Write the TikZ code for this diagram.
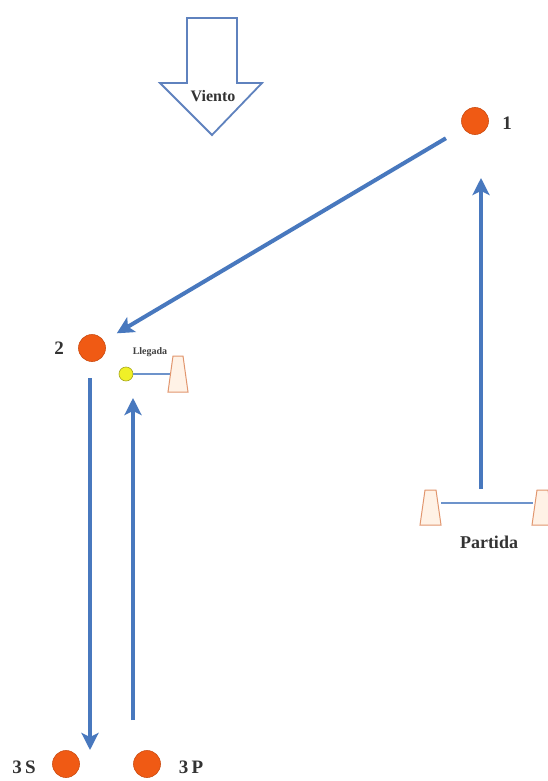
\documentclass[tikz,border=0pt]{standalone}
\usepackage{fontspec}
\setmainfont{Liberation Serif}
\usetikzlibrary{arrows.meta}
\definecolor{arrblue}{RGB}{72,120,190}
\definecolor{dotorange}{RGB}{240,90,20}
\definecolor{conefill}{RGB}{255,242,230}
\definecolor{coneline}{RGB}{225,150,110}
\definecolor{windblue}{RGB}{95,130,190}
\definecolor{ballyellow}{RGB}{240,240,40}
\begin{document}
\begin{tikzpicture}[x=1pt,y=-1pt,
  arr/.style={draw=arrblue,line width=4pt,-{Stealth[length=17pt,width=17pt,inset=4pt]}},
  dot/.style={circle,fill=dotorange,draw=dotorange!85!black,line width=0.6pt,minimum size=27pt,inner sep=0pt},
  lbl/.style={font=\bfseries\fontsize{19}{19}\selectfont,text=black!80},
  cone/.style={draw=coneline,fill=conefill,line width=1pt},
  link/.style={draw=arrblue!80,line width=1.2pt}]
\useasboundingbox (0,0) rectangle (548,781);
\fill[white] (0,0) rectangle (548,781);
% wind arrow
\draw[windblue,line width=1.8pt,fill=white,line join=miter]
  (187,18) -- (237,18) -- (237,83) -- (262,83) -- (212,135) -- (160,83) -- (187,83) -- cycle;
\node[font=\bfseries\fontsize{16}{16}\selectfont,text=black!80] (viento) at (213,96) {Viento};
% points
\node[dot] (p1) at (475,121) {};
\node[lbl] (l1) at (507,123) {1};
\node[dot] (p2) at (92,348) {};
\node[lbl] (l2) at (59,348) {2};
\node[dot] (p3s) at (66,764) {};
\node[lbl] (l3s) at (24,767) {3\,S};
\node[dot] (p3p) at (147,764) {};
\node[lbl] (l3p) at (191,767) {3\,P};
% Llegada
\node[font=\bfseries\fontsize{10}{10}\selectfont,text=black!75] (lleg) at (150,352) {Llegada};
\node[circle,fill=ballyellow,draw=ballyellow!70!black,line width=0.6pt,minimum size=14pt,inner sep=0pt] (ball) at (126,374) {};
\coordinate (c2) at (172,374);
\draw[link] (ball) -- (c2);
\draw[cone] (173,356) -- (183,356) -- (188,392) -- (168,392) -- cycle;
% Partida
\draw[cone] (425,490) -- (436,490) -- (441,525) -- (420,525) -- cycle;
\draw[cone] (537,490) -- (548,490) -- (553,525) -- (532,525) -- cycle;
\coordinate (pl) at (441,503);
\coordinate (pr) at (533,503);
\draw[link] (pl) -- (pr);
\node[font=\bfseries\fontsize{18}{18}\selectfont,text=black!80] (part) at (489,542) {Partida};
% arrows
\coordinate (a1s) at (481,489);
\coordinate (a1e) at (481,178);
\draw[arr] (a1s) -- (a1e);
\draw[arr,shorten <=20pt,shorten >=15pt] (p1) -- (p2);
\coordinate (a2s) at (90,378);
\coordinate (a2e) at (90,750);
\draw[arr] (a2s) -- (a2e);
\coordinate (a3s) at (133,720);
\coordinate (a3e) at (133,398);
\draw[arr] (a3s) -- (a3e);
\end{tikzpicture}
\end{document}
